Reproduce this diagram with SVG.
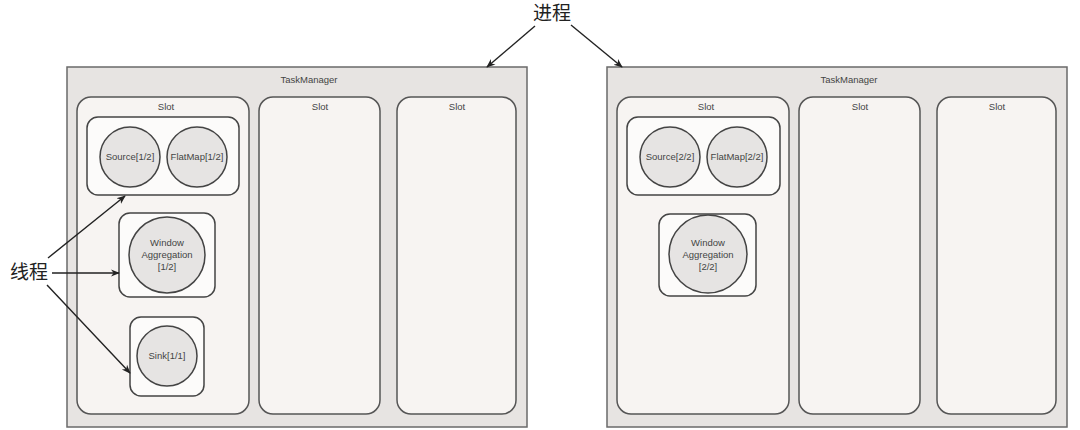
<svg xmlns="http://www.w3.org/2000/svg" width="1080" height="430" viewBox="0 0 1080 430">
<defs>
<marker id="ah" viewBox="0 0 10 10" refX="9" refY="5" markerWidth="9" markerHeight="9" orient="auto" markerUnits="userSpaceOnUse"><path d="M0,1 L10,5 L0,9 L3,5 z" fill="#222"/></marker>
</defs>
<style>
.tm{fill:#e7e4e2;stroke:#6a6a6a;stroke-width:1.5}
.slot{fill:#f7f4f2;stroke:#555;stroke-width:1.5}
.grp{fill:#fcfbfa;stroke:#444;stroke-width:1.5}
.op{fill:#e6e4e3;stroke:#444;stroke-width:1.5}
.t{font-family:"Liberation Sans",Arial,sans-serif;font-size:9.5px;fill:#444;text-anchor:middle}
.zh{font-family:"Noto Sans CJK SC",sans-serif;font-size:19px;fill:#222;text-anchor:middle}
.arr{stroke:#222;stroke-width:1.4;fill:none;marker-end:url(#ah)}
</style>
<rect width="1080" height="430" fill="#fff"/>
<g id="tm1">
<rect class="tm" x="67" y="67" width="460" height="360"/>
<text class="t" x="309" y="83">TaskManager</text>
</g>
<g id="tm1-slot1">
<rect class="slot" x="77" y="97" width="172" height="317" rx="14"/>
<text class="t" x="166" y="110">Slot</text>
</g>
<g id="tm1-slot2">
<rect class="slot" x="259" y="97" width="121" height="317" rx="14"/>
<text class="t" x="320" y="110">Slot</text>
</g>
<g id="tm1-slot3">
<rect class="slot" x="397" y="97" width="119" height="317" rx="14"/>
<text class="t" x="457" y="110">Slot</text>
</g>
<g id="tm1-chain">
<rect class="grp" x="87" y="117" width="152" height="78" rx="11"/>
</g>
<g id="source1">
<circle class="op" cx="130" cy="157" r="30"/>
<text class="t" x="130" y="160">Source[1/2]</text>
</g>
<g id="flatmap1">
<circle class="op" cx="197" cy="157" r="30"/>
<text class="t" x="197" y="160">FlatMap[1/2]</text>
</g>
<g id="window1">
<rect class="grp" x="119" y="213" width="96" height="84" rx="11"/>
<circle class="op" cx="167" cy="255" r="38"/>
<text class="t" x="167" y="246">Window</text>
<text class="t" x="167" y="258">Aggregation</text>
<text class="t" x="167" y="270">[1/2]</text>
</g>
<g id="sink1">
<rect class="grp" x="130" y="317" width="74" height="79" rx="11"/>
<circle class="op" cx="167" cy="356" r="30"/>
<text class="t" x="167" y="359">Sink[1/1]</text>
</g>
<g id="tm2">
<rect class="tm" x="607" y="67" width="460" height="360"/>
<text class="t" x="849" y="83">TaskManager</text>
</g>
<g id="tm2-slot1">
<rect class="slot" x="617" y="97" width="172" height="317" rx="14"/>
<text class="t" x="706" y="110">Slot</text>
</g>
<g id="tm2-slot2">
<rect class="slot" x="799" y="97" width="121" height="317" rx="14"/>
<text class="t" x="860" y="110">Slot</text>
</g>
<g id="tm2-slot3">
<rect class="slot" x="937" y="97" width="119" height="317" rx="14"/>
<text class="t" x="997" y="110">Slot</text>
</g>
<g id="tm2-chain">
<rect class="grp" x="627" y="117" width="153" height="78" rx="11"/>
</g>
<g id="source2">
<circle class="op" cx="670" cy="157" r="30"/>
<text class="t" x="670" y="160">Source[2/2]</text>
</g>
<g id="flatmap2">
<circle class="op" cx="737" cy="157" r="30"/>
<text class="t" x="737" y="160">FlatMap[2/2]</text>
</g>
<g id="window2">
<rect class="grp" x="659" y="214" width="97" height="82" rx="11"/>
<circle class="op" cx="708" cy="254" r="39"/>
<text class="t" x="708" y="246">Window</text>
<text class="t" x="708" y="258">Aggregation</text>
<text class="t" x="708" y="270">[2/2]</text>
</g>
<g id="label-process">
<text class="zh" x="552" y="20">进程</text>
</g>
<g id="label-thread">
<text class="zh" x="29" y="279">线程</text>
</g>
<g id="connectors">
<path class="arr" d="M535,26 L487,67"/>
<path class="arr" d="M571,25 L622,67"/>
<path class="arr" d="M48,258 L125,196"/>
<path class="arr" d="M52,273 L119,273"/>
<path class="arr" d="M47,285 L130,373"/>
</g>
</svg>
